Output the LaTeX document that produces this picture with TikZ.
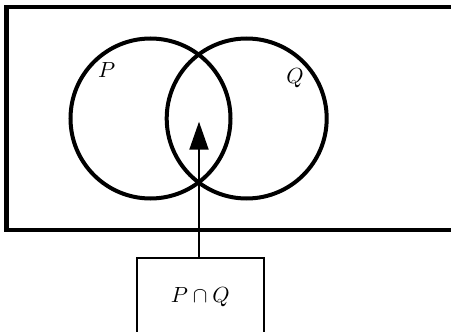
\documentclass[tikz,border=0pt]{standalone}
\usetikzlibrary{arrows.meta,positioning}
\begin{document}
\begin{tikzpicture}[x=0.5pt, y=-0.5pt, >=Latex, font=\fontsize{10.5}{12}\selectfont,
    setcircle/.style={draw, circle, line width=2pt, minimum size=80pt, inner sep=0pt},
    resultbox/.style={draw, rectangle, line width=1pt, minimum width=63.5pt, minimum height=39.3pt}]
    \useasboundingbox (0,0) rectangle (451,332);
    \clip (0,0) rectangle (451,332);
    % universal set, open at the right
    \draw [line width=2.1pt] (480,7) -| (6.5,230) -- (480,230);
    \node [setcircle] (P) at (150.5,118.5) {};
    \node [setcircle] (Q) at (246.7,118.5) {};
    \node (Plabel) at (106.7,70) {$P$};
    \node (Qlabel) at (295,78) {$Q$};
    \node [resultbox] (PQ) at (200.3,297) {$P \cap Q$};
    \coordinate (tip) at (199,121.7);

    \draw [-{Triangle[length=14pt,width=9.5pt]}, line width=1pt] (PQ.north -| tip) -- (tip);
\end{tikzpicture}
\end{document}
